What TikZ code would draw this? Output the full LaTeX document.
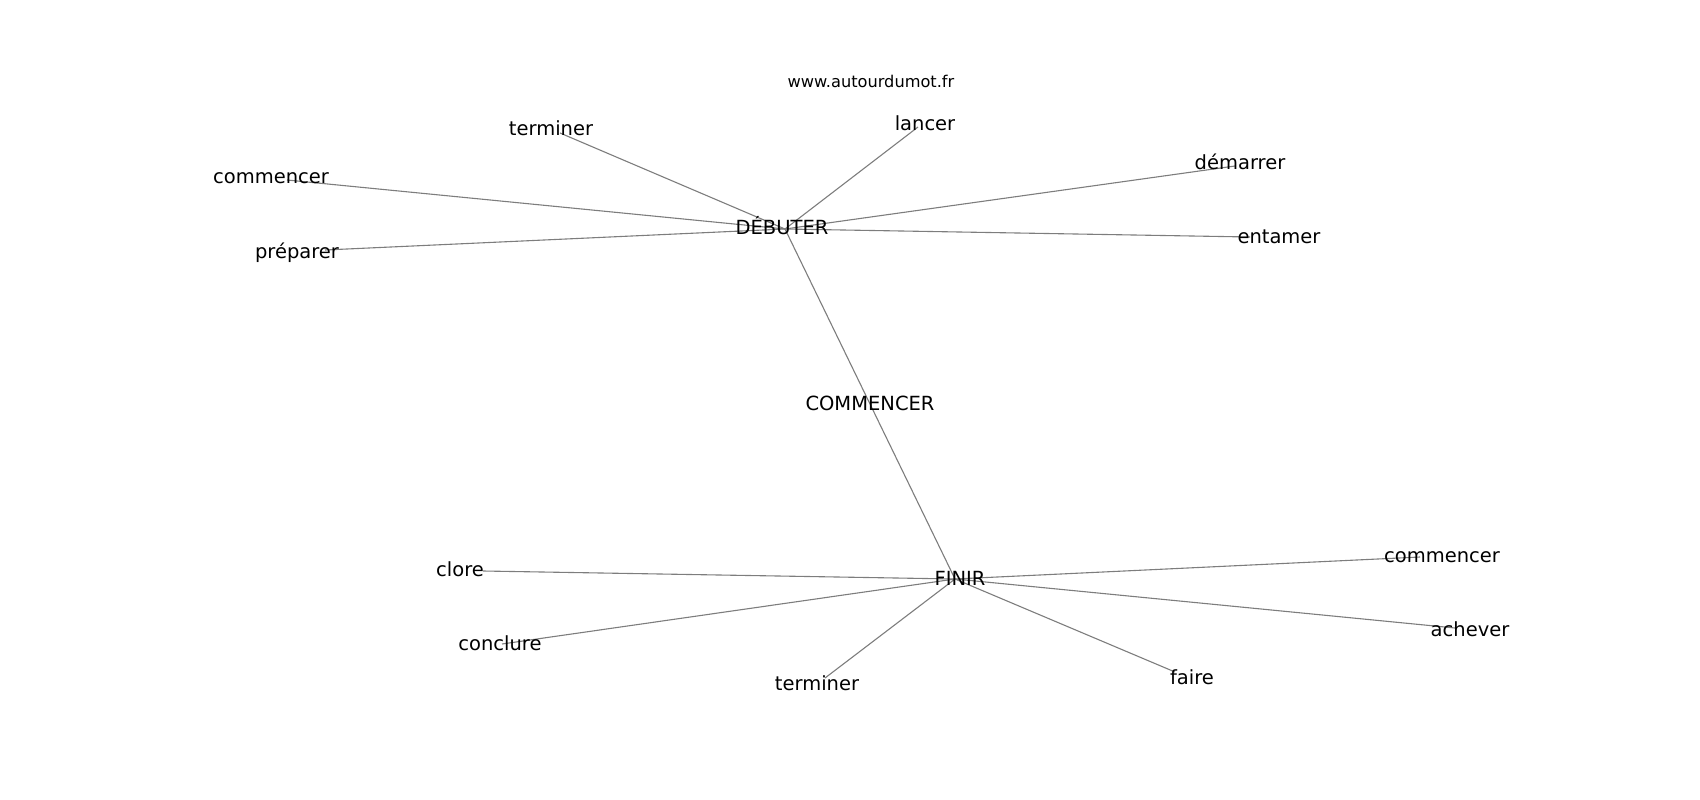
\documentclass[tikz,border=0pt]{standalone}
\usepackage{fontspec}
\setmainfont{DejaVu Sans}
\definecolor{edgegray}{RGB}{125,125,125}
\begin{document}
\begin{tikzpicture}[x=1pt,y=-1pt,
  lbl/.style={font=\fontsize{19.5}{23}\selectfont, anchor=base, inner sep=0pt},
  url/.style={font=\fontsize{16.2}{19}\selectfont, anchor=base, inner sep=0pt},
  edge/.style={draw=edgegray, line width=1.1pt}]
\useasboundingbox (0,0) rectangle (1700,800);
% hubs and endpoints
\coordinate (hD) at (785,229);
\coordinate (hF) at (955,579);
\coordinate (pD1) at (560,133);
\coordinate (pD2) at (287,180);
\coordinate (pD3) at (325,250);
\coordinate (pD4) at (918,127);
\coordinate (pD5) at (1235,166);
\coordinate (pD6) at (1250,237);
\coordinate (pF1) at (483,571);
\coordinate (pF2) at (502,644);
\coordinate (pF3) at (825,678);
\coordinate (pF4) at (1175,672);
\coordinate (pF5) at (1455,628);
\coordinate (pF6) at (1420,557);
% connectors
\foreach \p in {pD1,pD2,pD3,pD4,pD5,pD6} \draw[edge] (hD) -- (\p);
\foreach \p in {pF1,pF2,pF3,pF4,pF5,pF6} \draw[edge] (hF) -- (\p);
\draw[edge] (hD) -- (hF);
% labels
\node[url] (u) at (871,88) {www.autourdumot.fr};
\node[lbl] (D) at (782,234) {DÉBUTER};
\node[lbl] (F) at (960,585) {FINIR};
\node[lbl] (C) at (870,410) {COMMENCER};
\node[lbl] (d1) at (551,135) {terminer};
\node[lbl] (d2) at (271,183) {commencer};
\node[lbl] (d3) at (297,258) {préparer};
\node[lbl] (d4) at (925,130) {lancer};
\node[lbl] (d5) at (1240,169) {démarrer};
\node[lbl] (d6) at (1279,243) {entamer};
\node[lbl] (f1) at (460,576) {clore};
\node[lbl] (f2) at (500,650) {conclure};
\node[lbl] (f3) at (817,690) {terminer};
\node[lbl] (f4) at (1192,684) {faire};
\node[lbl] (f5) at (1470,636) {achever};
\node[lbl] (f6) at (1442,562) {commencer};
\end{tikzpicture}
\end{document}
